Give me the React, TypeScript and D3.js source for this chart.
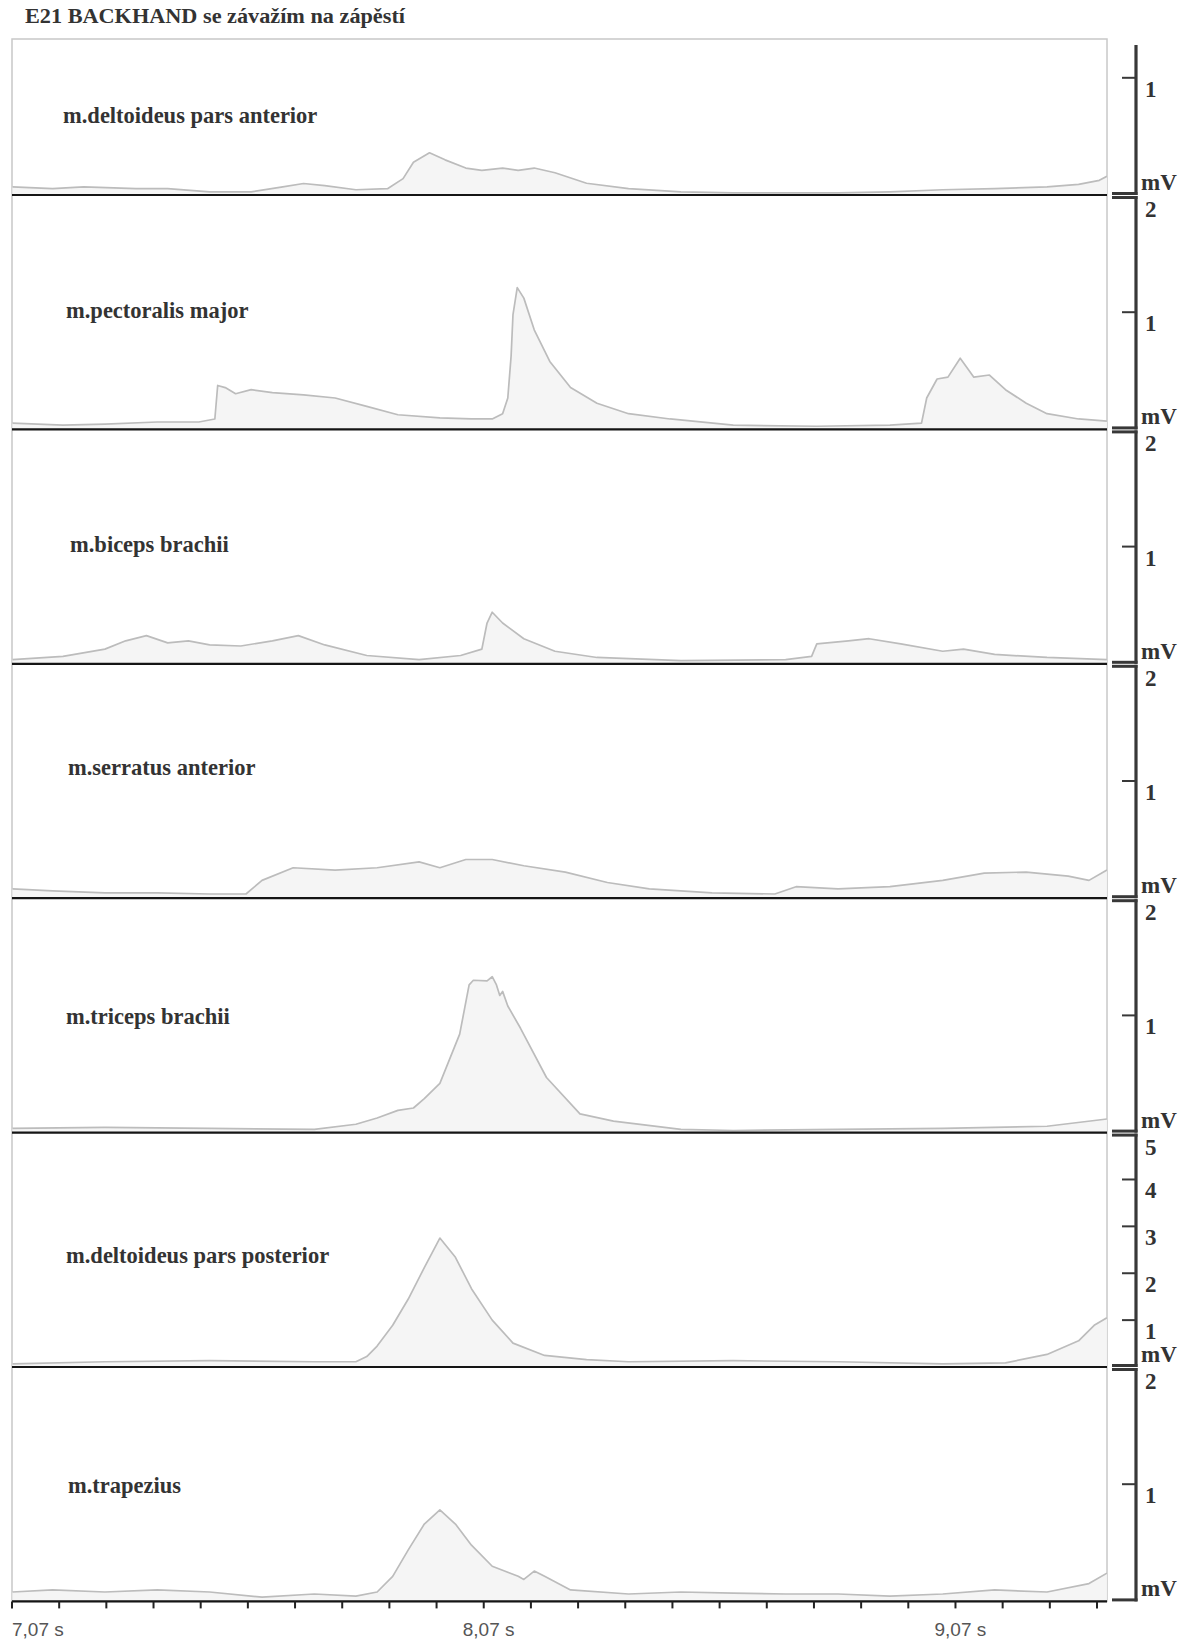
import React from "react";
import * as d3 from "d3";

// ---------- data ----------
const chartTitle = "E21 BACKHAND se závažím na zápěstí";

const muscleNames = [
  "m.deltoideus pars anterior",
  "m.pectoralis major",
  "m.biceps brachii",
  "m.serratus anterior",
  "m.triceps brachii",
  "m.deltoideus pars posterior",
  "m.trapezius",
];

// vertical range (mV) of each panel
const panelMax = [2, 2, 2, 2, 2, 5, 2];
// labelled tick values on the right axis for each panel
const panelTicks = [[1], [1, 2], [1, 2], [1, 2], [1, 2], [1, 2, 3, 4, 5], [1, 2]];

const timeStart = 7.07;
const timeEnd = 9.37;
const timeLabels = ["7,07 s", "8,07 s", "9,07 s"];
const timeLabelValues = [7.07, 8.07, 9.07];

// [time s, mV]
const deltoideusAnterior: [number, number][] = [
  [7.071, 0.07], [7.156, 0.054], [7.222, 0.07], [7.333, 0.054], [7.4, 0.054],
  [7.489, 0.027], [7.577, 0.027], [7.644, 0.07], [7.688, 0.098], [7.733, 0.08],
  [7.799, 0.045], [7.866, 0.054], [7.899, 0.14], [7.921, 0.28], [7.955, 0.36],
  [7.988, 0.3], [8.032, 0.23], [8.066, 0.21], [8.11, 0.23], [8.143, 0.21],
  [8.177, 0.23], [8.221, 0.19], [8.288, 0.1], [8.377, 0.054], [8.488, 0.027],
  [8.599, 0.018], [8.71, 0.018], [8.821, 0.018], [8.931, 0.027], [9.043, 0.045],
  [9.153, 0.054], [9.264, 0.07], [9.331, 0.09], [9.375, 0.125], [9.391, 0.16],
];

const pectoralisMajor: [number, number][] = [
  [7.071, 0.054], [7.178, 0.036], [7.267, 0.045], [7.378, 0.063], [7.466, 0.063],
  [7.5, 0.089], [7.506, 0.375], [7.522, 0.357], [7.544, 0.304], [7.577, 0.339],
  [7.622, 0.313], [7.688, 0.295], [7.755, 0.268], [7.822, 0.196], [7.888, 0.125],
  [7.977, 0.098], [8.044, 0.089], [8.088, 0.089], [8.11, 0.134], [8.121, 0.268],
  [8.128, 0.625], [8.132, 0.98], [8.141, 1.21], [8.155, 1.12], [8.177, 0.85],
  [8.21, 0.58], [8.254, 0.357], [8.31, 0.223], [8.377, 0.134], [8.465, 0.089],
  [8.599, 0.036], [8.776, 0.027], [8.931, 0.036], [8.998, 0.054], [9.009, 0.268],
  [9.031, 0.43], [9.054, 0.446], [9.08, 0.607], [9.109, 0.446], [9.142, 0.464],
  [9.176, 0.339], [9.22, 0.223], [9.264, 0.134], [9.331, 0.089], [9.391, 0.071],
];

const bicepsBrachii: [number, number][] = [
  [7.071, 0.036], [7.178, 0.063], [7.267, 0.125], [7.311, 0.196], [7.355, 0.24],
  [7.4, 0.179], [7.444, 0.196], [7.489, 0.161], [7.555, 0.152], [7.622, 0.196],
  [7.677, 0.24], [7.733, 0.161], [7.822, 0.071], [7.933, 0.036], [8.021, 0.071],
  [8.066, 0.125], [8.077, 0.348], [8.088, 0.44], [8.11, 0.348], [8.155, 0.214],
  [8.221, 0.107], [8.31, 0.054], [8.488, 0.027], [8.71, 0.036], [8.765, 0.063],
  [8.776, 0.17], [8.843, 0.196], [8.887, 0.214], [8.954, 0.17], [9.043, 0.107],
  [9.087, 0.125], [9.153, 0.08], [9.264, 0.054], [9.391, 0.036],
];

const serratusAnterior: [number, number][] = [
  [7.071, 0.08], [7.156, 0.063], [7.267, 0.045], [7.378, 0.045], [7.489, 0.036],
  [7.566, 0.036], [7.6, 0.152], [7.666, 0.26], [7.755, 0.24], [7.844, 0.26],
  [7.933, 0.31], [7.977, 0.26], [8.032, 0.33], [8.088, 0.33], [8.155, 0.277],
  [8.243, 0.223], [8.332, 0.134], [8.421, 0.08], [8.554, 0.045], [8.687, 0.036],
  [8.732, 0.098], [8.821, 0.08], [8.931, 0.098], [9.043, 0.152], [9.131, 0.214],
  [9.22, 0.223], [9.309, 0.188], [9.353, 0.152], [9.391, 0.241],
];

const tricepsBrachii: [number, number][] = [
  [7.071, 0.036], [7.267, 0.045], [7.489, 0.036], [7.711, 0.027], [7.799, 0.071],
  [7.844, 0.125], [7.888, 0.19], [7.921, 0.21], [7.944, 0.29], [7.977, 0.42],
  [8.019, 0.84], [8.039, 1.26], [8.048, 1.3], [8.077, 1.295], [8.088, 1.33],
  [8.097, 1.26], [8.104, 1.17], [8.11, 1.205], [8.121, 1.08], [8.148, 0.89],
  [8.203, 0.47], [8.274, 0.16], [8.345, 0.098], [8.488, 0.027], [8.599, 0.018],
  [8.821, 0.027], [9.043, 0.036], [9.264, 0.054], [9.391, 0.116],
];

const deltoideusPosterior: [number, number][] = [
  [7.071, 0.067], [7.267, 0.112], [7.489, 0.134], [7.711, 0.112], [7.799, 0.112],
  [7.822, 0.223], [7.844, 0.446], [7.877, 0.89], [7.91, 1.45], [7.944, 2.12],
  [7.977, 2.75], [8.01, 2.34], [8.044, 1.67], [8.088, 1.0], [8.132, 0.51],
  [8.199, 0.246], [8.288, 0.156], [8.377, 0.112], [8.599, 0.134], [8.821, 0.112],
  [9.043, 0.067], [9.176, 0.089], [9.264, 0.268], [9.331, 0.558], [9.364, 0.89],
  [9.391, 1.05],
];

const trapezius: [number, number][] = [
  [7.071, 0.08], [7.156, 0.098], [7.267, 0.08], [7.378, 0.098], [7.489, 0.08],
  [7.6, 0.036], [7.711, 0.063], [7.799, 0.045], [7.844, 0.08], [7.877, 0.214],
  [7.91, 0.44], [7.944, 0.66], [7.977, 0.78], [8.01, 0.66], [8.044, 0.48],
  [8.088, 0.3], [8.143, 0.214], [8.155, 0.1875], [8.177, 0.259], [8.199, 0.214],
  [8.254, 0.098], [8.377, 0.063], [8.488, 0.08], [8.599, 0.071], [8.71, 0.063],
  [8.821, 0.063], [8.931, 0.045], [9.043, 0.063], [9.153, 0.098], [9.264, 0.08],
  [9.353, 0.152], [9.391, 0.241],
];

const seriesList = [
  deltoideusAnterior,
  pectoralisMajor,
  bicepsBrachii,
  serratusAnterior,
  tricepsBrachii,
  deltoideusPosterior,
  trapezius,
];

// ---------- layout ----------
const W = 1200;
const H = 1642;
const frameLeft = 12;
const frameRight = 1107;
const frameTop = 39;
const firstBottom = 195;
const panelH = 234.4;
const axisX = 1136;
const labelX = [63, 66, 70, 68, 66, 66, 68];
const labelY = [123, 318, 552, 775, 1024, 1263, 1493];

const serif = "'Liberation Serif', 'DejaVu Serif', serif";
const sans = "'Liberation Sans', Arial, sans-serif";

export default function App() {
  const x = d3.scaleLinear().domain([timeStart, timeEnd]).range([frameLeft, 1097]);
  const bottoms = muscleNames.map((_, i) => firstBottom + i * panelH);
  const tops = bottoms.map((b, i) => (i === 0 ? frameTop : bottoms[i - 1]));
  const yScales = bottoms.map((b, i) =>
    d3.scaleLinear().domain([0, panelMax[i]]).range([b, b - panelH])
  );
  const xAxisY = bottoms[bottoms.length - 1];
  const minorTicks = d3.range(0, 24).map((k) => +(timeStart + k * 0.1).toFixed(2));

  return (
    <svg width={W} height={H}
      style={{ display: "block", background: "#fff", position: "absolute", left: 0, top: 0 }}>
      <defs>
        <clipPath id="frameClip">
          <rect x={frameLeft} y={frameTop} width={frameRight - frameLeft} height={xAxisY - frameTop} />
        </clipPath>
      </defs>
      <rect x={0} y={0} width={W} height={H} fill="#fff" />
      <text x={25} y={23} fontFamily={serif} fontWeight="bold" fontSize={22} fill="#333"
        textLength={380} lengthAdjust="spacingAndGlyphs">
        {chartTitle}
      </text>

      {/* frame */}
      <rect x={frameLeft} y={frameTop} width={frameRight - frameLeft} height={xAxisY - frameTop}
        fill="none" stroke="#c8c8c8" strokeWidth={1.5} />

      {seriesList.map((data, i) => {
        const y = yScales[i];
        const area = d3.area<[number, number]>()
          .x((d) => x(d[0]))
          .y0(bottoms[i])
          .y1((d) => y(d[1]));
        const line = d3.line<[number, number]>()
          .x((d) => x(d[0]))
          .y((d) => y(d[1]));
        return (
          <g key={i} clipPath="url(#frameClip)">
            <path d={area(data) || ""} fill="#f5f5f5" stroke="none" />
            <path d={line(data) || ""} fill="none" stroke="#bcbcbc" strokeWidth={1.7} strokeLinejoin="round" />
          </g>
        );
      })}

      {/* panel separators */}
      {bottoms.map((b, i) => (
        <line key={"sep" + i} x1={frameLeft} x2={frameRight} y1={b} y2={b}
          stroke="#151515" strokeWidth={2.2} />
      ))}

      {/* x ticks */}
      {minorTicks.map((t, k) => (
        <line key={"xt" + k} x1={x(t)} x2={x(t)} y1={xAxisY} y2={xAxisY + 7}
          stroke="#222" strokeWidth={2} />
      ))}
      {timeLabels.map((lab, k) => (
        <text key={"xl" + k} x={k === 0 ? x(timeLabelValues[k]) : x(timeLabelValues[k]) - 21}
          y={1636} fontFamily={sans} fontSize={19} fill="#555">
          {lab}
        </text>
      ))}

      {/* muscle labels */}
      {muscleNames.map((name, i) => (
        <text key={"ml" + i} x={labelX[i]} y={labelY[i]} fontFamily={serif} fontWeight="bold"
          fontSize={22.5} fill="#333">
          {name}
        </text>
      ))}

      {/* right axes */}
      {muscleNames.map((_, i) => {
        const y = yScales[i];
        const top = i === 0 ? 45 : tops[i] + 1;
        const b = bottoms[i];
        return (
          <g key={"ax" + i}>
            <line x1={axisX} x2={axisX} y1={top} y2={b} stroke="#383838" strokeWidth={3.2} />
            <line x1={1112} x2={axisX + 1.5} y1={b - 1.5} y2={b - 1.5} stroke="#383838" strokeWidth={3} />
            {i > 0 && (
              <line x1={1112} x2={axisX + 1.5} y1={tops[i] + 2.5} y2={tops[i] + 2.5} stroke="#383838" strokeWidth={3} />
            )}
            {panelTicks[i].map((v) => {
              const ty = y(v);
              const isTop = v === panelMax[i];
              return (
                <g key={"tk" + v}>
                  {!isTop && (
                    <line x1={1122} x2={axisX} y1={ty} y2={ty} stroke="#383838" strokeWidth={2} />
                  )}
                  <text x={1145} y={isTop ? tops[i] + 22 : ty + 19} fontFamily={serif}
                    fontWeight="bold" fontSize={23} fill="#333">
                    {v}
                  </text>
                </g>
              );
            })}
            <text x={1141} y={b - 5} fontFamily={serif} fontWeight="bold" fontSize={23} fill="#333">
              mV
            </text>
          </g>
        );
      })}
    </svg>
  );
}
